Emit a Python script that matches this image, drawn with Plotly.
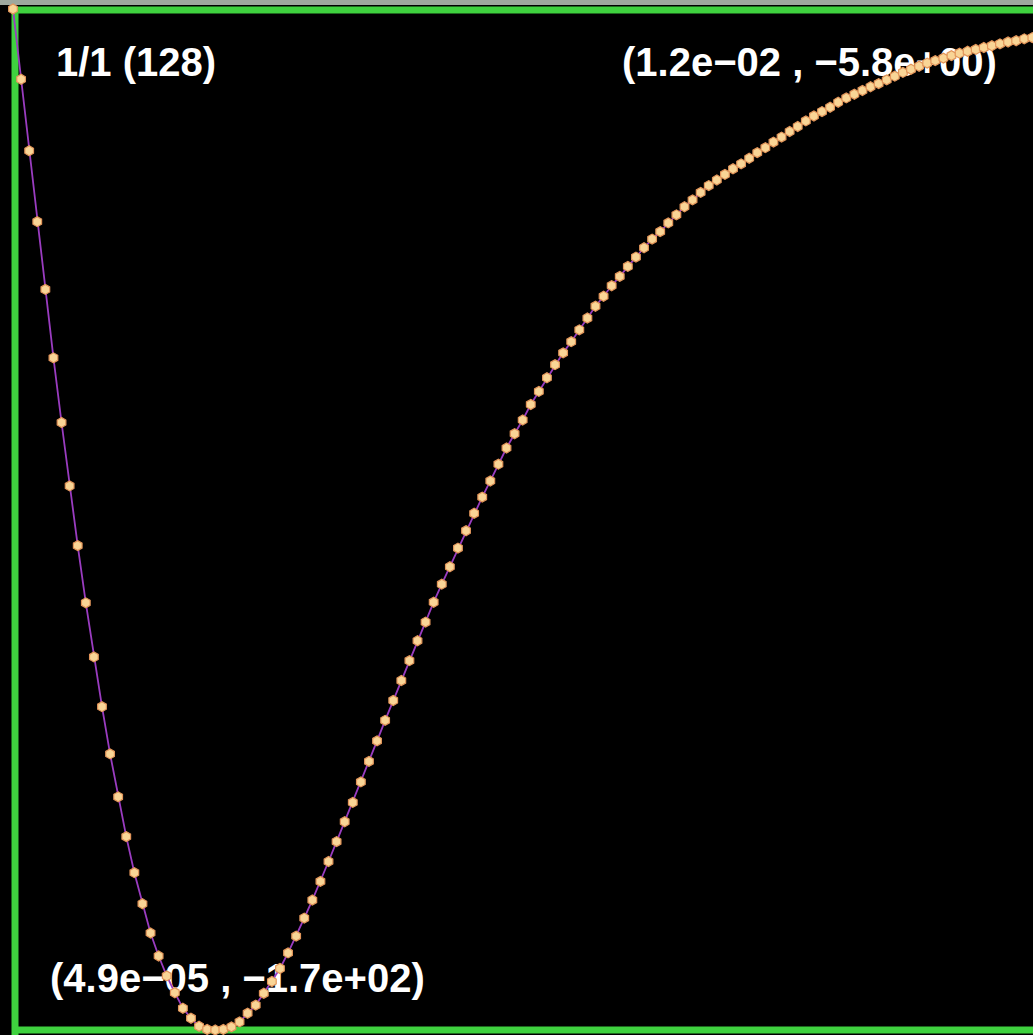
import numpy as np
import plotly.graph_objects as go

# ---- data -------------------------------------------------------------
n_points = 128
x_first = 4.9e-05
x_last = 1.2e-02
x_values = np.linspace(x_first, x_last, n_points)

y_values = [
    -5.8, -17.1, -28.6, -40.0, -50.9, -61.9, -72.3, -82.5, -92.1, -101.3,
    -110.0, -118.0, -125.6, -132.5, -138.9, -144.7, -149.7, -154.4, -158.1, -161.3,
    -164.0, -166.5, -168.1, -169.4, -169.9, -170.0, -169.9, -169.5, -168.7, -167.3,
    -166.0, -164.1, -162.2, -160.1, -157.6, -154.9, -152.0, -149.1, -146.1, -142.9,
    -139.7, -136.5, -133.4, -130.1, -126.8, -123.5, -120.2, -117.0, -113.8, -110.6,
    -107.4, -104.4, -101.2, -98.3, -95.5, -92.5, -89.7, -86.9, -84.3, -81.7,
    -79.0, -76.4, -74.1, -71.9, -69.4, -67.3, -65.1, -63.0, -61.1, -59.3,
    -57.4, -55.5, -53.6, -52.0, -50.3, -48.8, -47.2, -45.7, -44.2, -42.8,
    -41.6, -40.2, -38.9, -37.6, -36.5, -35.3, -34.2, -33.3, -32.4, -31.5,
    -30.7, -29.8, -28.9, -28.1, -27.2, -26.4, -25.5, -24.7, -23.8, -23.0,
    -22.3, -21.6, -20.8, -20.1, -19.5, -18.9, -18.3, -17.8, -17.2, -16.6,
    -16.0, -15.5, -15.0, -14.5, -14.1, -13.7, -13.3, -12.9, -12.6, -12.3,
    -12.0, -11.7, -11.4, -11.1, -10.9, -10.6, -10.4, -10.2,
]

y_min = min(y_values)
y_max = max(y_values)


def sci(v):
    # scientific notation with a typographic minus sign
    return f"{v:.1e}".replace("-", "\u2212")


frame_label = f"1/1 ({n_points})"
min_label = f"({sci(x_first)} , {sci(y_min)})"
max_label = f"({sci(x_last)} , {sci(y_max)})"

# ---- layout geometry ----------------------------------------------------
W, H = 1033, 1035
ML, MR, MT, MB = 13, 0, 9, 5
plot_w = W - ML - MR
plot_h = H - MT - MB
px_step = 8.09                        # screen distance between samples
dx = (x_last - x_first) / (n_points - 1)
x_range = [x_first, x_first + plot_w / px_step * dx]
y_range = [y_min, y_max]


def px_to_x(px):
    return x_range[0] + (px - ML) / plot_w * (x_range[1] - x_range[0])


def py_to_y(py):
    return y_range[1] - (py - MT) / plot_h * (y_range[1] - y_range[0])


label_font = dict(family="Liberation Sans", size=40, color="white", weight="bold")

fig = go.Figure()

# corner labels sit underneath the curve
fig.add_trace(go.Scatter(
    x=[px_to_x(56), px_to_x(622), px_to_x(50)],
    y=[py_to_y(66), py_to_y(66), py_to_y(982)],
    mode="text",
    text=[frame_label, max_label, min_label],
    textposition="middle right",
    textfont=label_font,
    cliponaxis=False,
    hoverinfo="skip",
    showlegend=False,
))

fig.add_trace(go.Scatter(
    x=x_values,
    y=y_values,
    mode="lines+markers",
    line=dict(color="#9a3cc0", width=1.8),
    marker=dict(symbol="hexagon", size=10, color="#f9d596",
                line=dict(color="#e2955a", width=1.2)),
    cliponaxis=False,
    showlegend=False,
))

green = "#3fd23f"
shapes = [
    # light strip above the frame
    dict(type="rect", xref="paper", yref="paper", layer="below",
         x0=-ML / plot_w, x1=1.0, y0=1 + 4 / plot_h, y1=1 + MT / plot_h,
         fillcolor="#9ea89e", line=dict(width=0)),
    # frame: top, bottom, left
    dict(type="line", xref="paper", yref="paper", layer="below",
         x0=-1 / plot_w, x1=1.0, y0=1 - 1 / plot_h, y1=1 - 1 / plot_h,
         line=dict(color=green, width=7)),
    dict(type="line", xref="paper", yref="paper", layer="below",
         x0=-1 / plot_w, x1=1.0, y0=0, y1=0,
         line=dict(color=green, width=7)),
    dict(type="line", xref="paper", yref="paper", layer="below",
         x0=2 / plot_w, x1=2 / plot_w, y0=-MB / plot_h, y1=1 + 2 / plot_h,
         line=dict(color=green, width=7)),
]

fig.update_layout(
    width=W, height=H,
    margin=dict(l=ML, r=MR, t=MT, b=MB, pad=0),
    paper_bgcolor="black",
    plot_bgcolor="black",
    shapes=shapes,
    showlegend=False,
    xaxis=dict(range=x_range, visible=False, showgrid=False, zeroline=False),
    yaxis=dict(range=y_range, visible=False, showgrid=False, zeroline=False),
)

fig.write_html("out.html")
